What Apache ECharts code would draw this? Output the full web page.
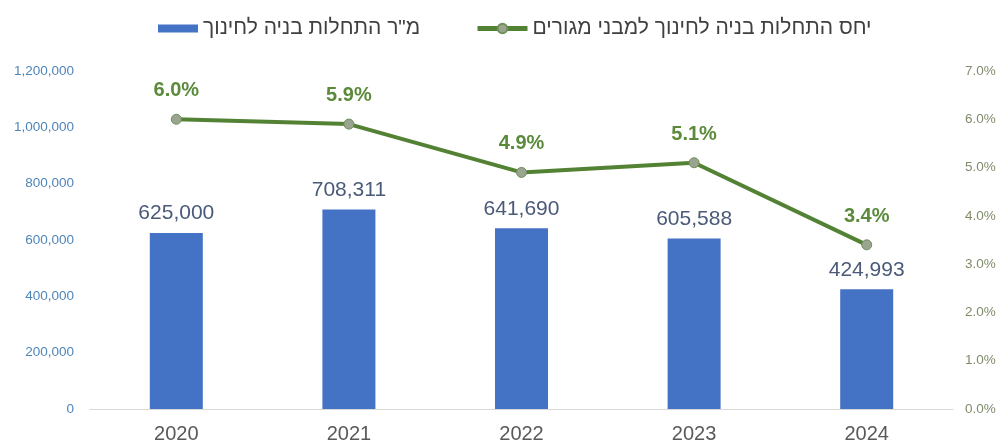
<!DOCTYPE html>
<html>
<head>
<meta charset="utf-8">
<script src="https://cdn.jsdelivr.net/npm/echarts@6/dist/echarts.min.js"></script>
<style>
  html, body { margin: 0; padding: 0; background: #fff; }
  #chart { width: 1007px; height: 444px; }
</style>
</head>
<body>
<div id="chart"></div>
<script>
// Years on the x axis
const years = ['2020', '2021', '2022', '2023', '2024'];
// Square metres of education construction starts
const areaStarts = [625000, 708311, 641690, 605588, 424993];
// Ratio of education starts to residential starts (%)
const ratioPct = [6.0, 5.9, 4.9, 5.1, 3.4];

const barName = 'מ"ר התחלות בניה לחינוך';
const lineName = 'יחס התחלות בניה לחינוך למבני מגורים';

const font = 'Liberation Sans, Arial, sans-serif';
const chart = echarts.init(document.getElementById('chart'), null, { renderer: 'canvas' });

chart.setOption({
  animation: false,
  backgroundColor: '#ffffff',
  grid: { left: 90, right: 54, top: 71, bottom: 35, containLabel: false },
  legend: [
    {
      data: [{ name: barName, icon: 'rect' }], left: 153, top: 13,
      itemWidth: 40, itemHeight: 8, itemGap: 6,
      textStyle: { fontFamily: font, fontSize: 21, color: '#404040' }
    },
    {
      data: [lineName], left: 470, top: 13,
      itemWidth: 50, itemHeight: 12, itemGap: 5,
      lineStyle: { width: 5 },
      textStyle: { fontFamily: font, fontSize: 21, color: '#404040' }
    }
  ],
  xAxis: {
    type: 'category',
    data: years,
    axisLine: { lineStyle: { color: '#d9d9d9', width: 1 } },
    axisTick: { show: false },
    axisLabel: { fontFamily: font, fontSize: 20, color: '#595959', margin: 15 }
  },
  yAxis: [
    {
      type: 'value', min: 0, max: 1200000, interval: 200000,
      axisLine: { show: false }, axisTick: { show: false },
      splitLine: { show: false },
      axisLabel: {
        fontFamily: font, fontSize: 13.5, color: '#4f86b8', margin: 16,
        formatter: v => v.toLocaleString('en-US')
      }
    },
    {
      type: 'value', min: 0, max: 7, interval: 1,
      axisLine: { show: false }, axisTick: { show: false },
      splitLine: { show: false },
      axisLabel: {
        fontFamily: font, fontSize: 13.5, color: '#7f8c6a', margin: 12,
        formatter: v => v.toFixed(1) + '%'
      }
    }
  ],
  series: [
    {
      name: barName,
      type: 'bar',
      yAxisIndex: 0,
      data: areaStarts,
      barWidth: 53,
      itemStyle: { color: '#4472c4' },
      label: {
        show: true, position: 'top', distance: 9,
        fontFamily: font, fontSize: 21, color: '#4a5a78',
        formatter: p => p.value.toLocaleString('en-US')
      }
    },
    {
      name: lineName,
      type: 'line',
      yAxisIndex: 1,
      data: ratioPct,
      symbol: 'circle',
      symbolSize: 10,
      lineStyle: { color: '#548235', width: 4 },
      itemStyle: { color: '#9aa58f', borderColor: '#6f8f5a', borderWidth: 1 },
      label: {
        show: true, position: 'top', distance: 13,
        fontFamily: font, fontSize: 20, fontWeight: 'bold', color: '#5a8a3a',
        formatter: p => p.value.toFixed(1) + '%'
      },
      z: 5
    }
  ]
});
</script>
</body>
</html>
